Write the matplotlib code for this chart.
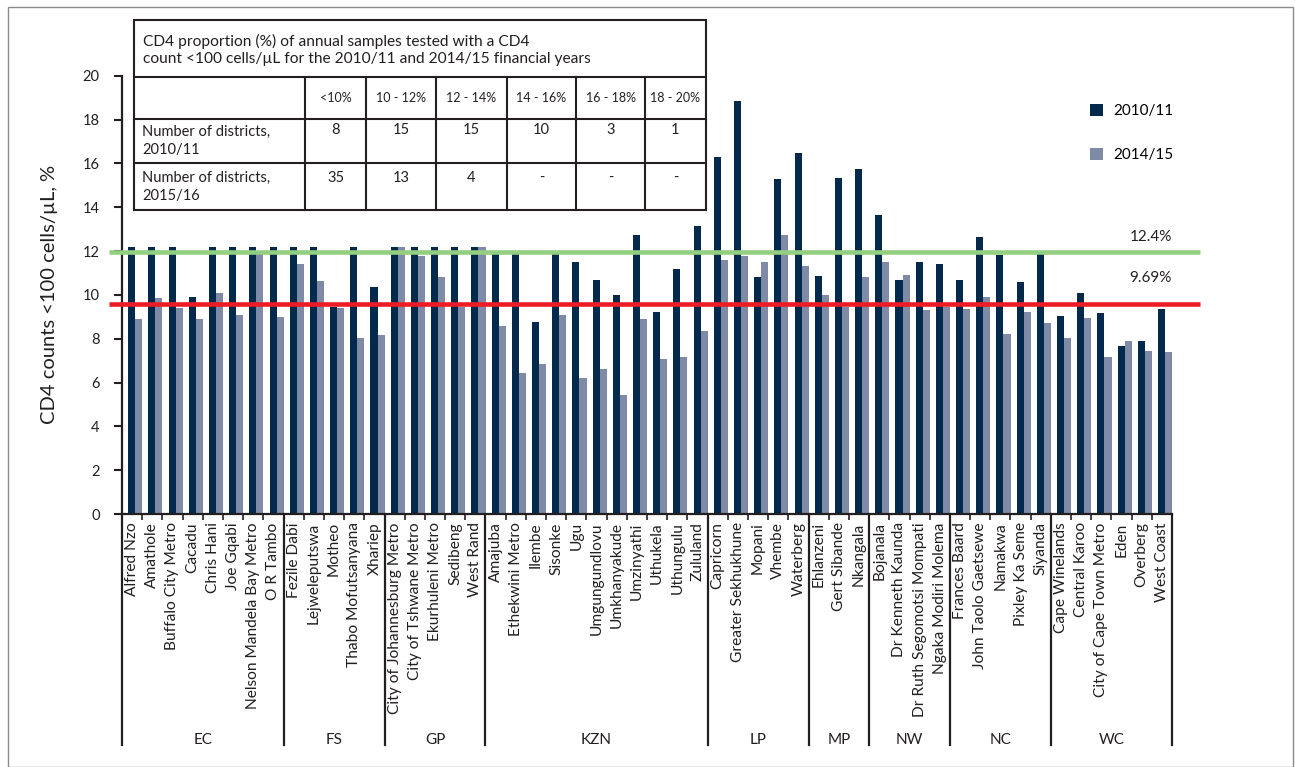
import matplotlib
matplotlib.use("Agg")
import matplotlib.pyplot as plt
import matplotlib.transforms as mtransforms
from matplotlib.lines import Line2D
from matplotlib.patches import Rectangle

plt.rcParams["font.family"] = ["Lato", "DejaVu Sans"]

provinces = ["EC", "FS", "GP", "KZN", "LP", "MP", "NW", "NC", "WC"]
prov_counts = [8, 5, 5, 11, 5, 3, 4, 5, 6]

districts = [
    "Alfred Nzo", "Amathole", "Buffalo City Metro", "Cacadu", "Chris Hani",
    "Joe Gqabi", "Nelson Mandela Bay Metro", "O R Tambo",
    "Fezile Dabi", "Lejweleputswa", "Motheo", "Thabo Mofutsanyana", "Xhariep",
    "City of Johannesburg Metro", "City of Tshwane Metro", "Ekurhuleni Metro",
    "Sedibeng", "West Rand",
    "Amajuba", "Ethekwini Metro", "Ilembe", "Sisonke", "Ugu", "Umgungundlovu",
    "Umkhanyakude", "Umzinyathi", "Uthukela", "Uthungulu", "Zululand",
    "Capricorn", "Greater Sekhukhune", "Mopani", "Vhembe", "Waterberg",
    "Ehlanzeni", "Gert Sibande", "Nkangala",
    "Bojanala", "Dr Kenneth Kaunda", "Dr Ruth Segomotsi Mompati",
    "Ngaka Modiri Molema",
    "Frances Baard", "John Taolo Gaetsewe", "Namakwa", "Pixley Ka Seme", "Siyanda",
    "Cape Winelands", "Central Karoo", "City of Cape Town Metro", "Eden",
    "Overberg", "West Coast",
]

v2010 = [12.2, 12.2, 12.2, 9.9, 12.2, 12.2, 12.2, 12.2,
         12.2, 12.2, 9.45, 12.2, 10.35,
         12.2, 12.2, 12.2, 12.2, 12.2,
         11.95, 11.95, 8.75, 11.95, 11.5, 10.7, 10.0, 12.75, 9.2, 11.2, 13.15,
         16.3, 18.85, 10.8, 15.3, 16.45,
         10.85, 15.35, 15.75,
         13.65, 10.7, 11.5, 11.4,
         10.7, 12.65, 11.8, 10.6, 11.95,
         9.05, 10.1, 9.15, 7.65, 7.9, 9.35]

v2014 = [8.9, 9.85, 9.4, 8.9, 10.1, 9.1, 11.85, 9.0,
         11.4, 10.65, 9.4, 8.05, 8.15,
         12.2, 11.75, 10.8, 9.45, 12.2,
         8.6, 6.45, 6.85, 9.1, 6.2, 6.6, 5.45, 8.9, 7.05, 7.15, 8.35,
         11.6, 11.75, 11.5, 12.75, 11.3,
         10.0, 9.45, 10.8,
         11.5, 10.9, 9.3, 9.45,
         9.35, 9.9, 8.2, 9.2, 8.7,
         8.05, 8.95, 7.15, 7.9, 7.45, 7.4]

series_labels = ["2010/11", "2014/15"]
ref_values = [11.95, 9.57]
ref_labels = ["12.4%", "9.69%"]

table_title = ("CD4 proportion (%) of annual samples tested with a CD4\n"
               "count <100 cells/\u00b5L for the 2010/11 and 2014/15 financial years")
table_bins = ["<10%", "10 - 12%", "12 - 14%", "14 - 16%", "16 - 18%", "18 - 20%"]
table_rows = ["Number of districts,\n2010/11", "Number of districts,\n2015/16"]
table_2010 = ["8", "15", "15", "10", "3", "1"]
table_2015 = ["35", "13", "4", "-", "-", "-"]

DARK = "#03294d"
LIGHT = "#7f8ba6"
RED = "#ed1c24"
GREEN = "#93cf80"
INK = "#231f20"

W, H = 1295, 767
fig = plt.figure(figsize=(W / 100, H / 100), dpi=100)
ax = fig.add_axes([122 / W, 1 - 514 / H, 1050 / W, (514 - 75.7) / H])


def fx(px):
    return px / W


def fy(py):
    return 1 - py / H


x = list(range(len(districts)))
b1 = ax.bar([i - 0.02 for i in x], v2010, width=0.35, color=DARK, zorder=2,
            label=series_labels[0])
b2 = ax.bar([i + 0.33 for i in x], v2014, width=0.35, color=LIGHT, zorder=2,
            label=series_labels[1])

ax.set_xlim(-0.5, len(districts) - 0.5)
ax.set_ylim(0, 20)
ax.set_yticks(range(0, 21, 2))
ax.tick_params(axis="y", direction="out", length=6, width=1.5, color=INK,
               labelsize=10.5, pad=10, labelcolor=INK)
ax.set_xticks(x)
ax.set_xticklabels(districts, rotation=90, fontsize=11.2, color=INK)
ax.tick_params(axis="x", which="major", length=0, pad=6)
ax.set_xticks([i + 0.5 for i in x[:-1]], minor=True)
ax.tick_params(axis="x", which="minor", direction="out", length=4, width=1.2,
               color=INK)
for s in ["top", "right"]:
    ax.spines[s].set_visible(False)
for s in ["left", "bottom"]:
    ax.spines[s].set_linewidth(1.6)
    ax.spines[s].set_color(INK)
ax.set_ylabel("CD4 counts <100 cells/\u00b5L, %", fontsize=14.5, color=INK,
              labelpad=18)

# reference lines spanning past the axes
trans_h = mtransforms.blended_transform_factory(ax.transAxes, ax.transData)
for val, col in zip(ref_values, [GREEN, RED]):
    ax.plot([-0.0124, 1.027], [val, val], color=col, lw=3.3, transform=trans_h,
            clip_on=False, zorder=3, solid_capstyle="butt")
ax.text(1.0, ref_values[0] + 0.7, ref_labels[0], transform=trans_h,
        ha="right", va="center", fontsize=11, color=INK)
ax.text(1.0, ref_values[1] + 1.2, ref_labels[1], transform=trans_h,
        ha="right", va="center", fontsize=11, color=INK)

# province group separators and labels
trans_v = mtransforms.blended_transform_factory(ax.transData, ax.transAxes)
start = -0.5
ybot = -(745 - 514) / 438.3
for prov, n in zip(provinces, prov_counts):
    ax.plot([start, start], [0, ybot], color=INK, lw=1.6, transform=trans_v,
            clip_on=False)
    ax.text(start + n / 2, -(740 - 514) / 438.3, prov, transform=trans_v,
            ha="center", va="center", fontsize=11, color=INK)
    start += n
ax.plot([start, start], [0, ybot], color=INK, lw=1.6, transform=trans_v,
        clip_on=False)

# legend
ax.legend(handles=[b1, b2], loc="upper left",
          bbox_to_anchor=((1084 - 122) / 1050, (514 - 98) / 438.3),
          frameon=False, fontsize=11, handlelength=0.85, handleheight=0.85,
          handletextpad=0.7, labelspacing=1.9, borderaxespad=0)

# table drawn in figure pixel coords
cols = [134, 305, 366, 436, 507, 576, 645, 706]
rows = [20, 77, 119, 163, 210]
lw_t = 1.5


def hline(y, x0, x1):
    fig.add_artist(Line2D([fx(x0), fx(x1)], [fy(y), fy(y)], color=INK, lw=lw_t))


def vline(xx, y0, y1):
    fig.add_artist(Line2D([fx(xx), fx(xx)], [fy(y0), fy(y1)], color=INK, lw=lw_t))


fig.add_artist(Rectangle((fx(134), fy(210)), fx(706) - fx(134), fy(20) - fy(210),
                         facecolor="white", edgecolor="none", zorder=0.5))
for r in rows:
    hline(r, cols[0], cols[-1])
vline(cols[0], rows[0], rows[-1])
vline(cols[-1], rows[0], rows[-1])
for c in cols[1:-1]:
    vline(c, rows[1], rows[-1])

fig.text(fx(143), fy(50), table_title, ha="left", va="center", fontsize=11.2,
         color=INK, linespacing=1.3)
for i, lab in enumerate(table_bins):
    cx = (cols[i + 1] + cols[i + 2]) / 2
    fig.text(fx(cx), fy(98), lab, ha="center", va="center", fontsize=9,
             color=INK)
    fig.text(fx(cx), fy(130), table_2010[i], ha="center", va="center",
             fontsize=10.5, color=INK)
    fig.text(fx(cx), fy(178), table_2015[i], ha="center", va="center",
             fontsize=10.5, color=INK)
fig.text(fx(142), fy(141), table_rows[0], ha="left", va="center", fontsize=10.5,
         color=INK, linespacing=1.3)
fig.text(fx(142), fy(187), table_rows[1], ha="left", va="center", fontsize=10.5,
         color=INK, linespacing=1.3)

# outer frame
fig.add_artist(Rectangle((fx(8), fy(767)), fx(1293) - fx(8), fy(7) - fy(767),
                         facecolor="none", edgecolor="#8a8a8a", lw=1.0))

fig.savefig("out.png", dpi=100)
